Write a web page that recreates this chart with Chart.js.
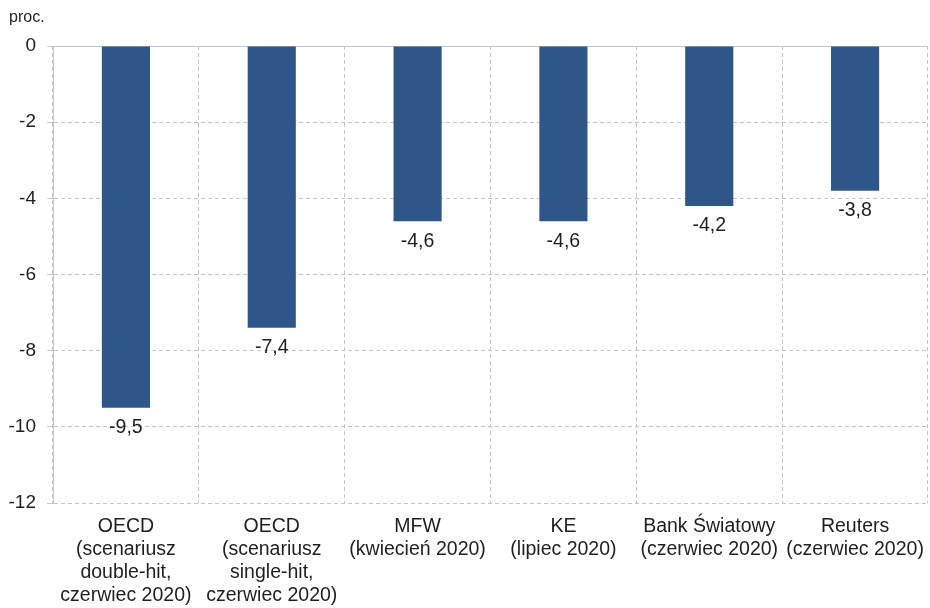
<!DOCTYPE html>
<html><head><meta charset="utf-8">
<script src="https://cdn.jsdelivr.net/npm/chart.js@4/dist/chart.umd.min.js"></script>
<style>html,body{margin:0;padding:0;background:#fff}#wrap{width:930px;height:608px}</style>
</head><body><div id="wrap"><canvas id="c" width="930" height="608"></canvas></div>
<script>
const categories = [
  ["OECD","(scenariusz","double-hit,","czerwiec 2020)"],
  ["OECD","(scenariusz","single-hit,","czerwiec 2020)"],
  ["MFW","(kwiecień 2020)"],
  ["KE","(lipiec 2020)"],
  ["Bank Światowy","(czerwiec 2020)"],
  ["Reuters","(czerwiec 2020)"]
];
const values = [-9.5, -7.4, -4.6, -4.6, -4.2, -3.8];
const yTicks = [0, -2, -4, -6, -8, -10, -12];
const unitLabel = "proc.";

const FONT = "'Liberation Sans', Arial, sans-serif";
const TXT = '#1f1f1f';
const GRID = '#c4c4c4';

const labelsPlugin = {
  id: 'extras',
  beforeDatasetsDraw(chart) {
    const {ctx, chartArea, scales} = chart;
    const y0 = scales.y.getPixelForValue(0);
    ctx.save();
    ctx.strokeStyle = GRID;
    ctx.lineWidth = 1;
    ctx.setLineDash([]);
    ctx.beginPath();
    ctx.moveTo(chartArea.left - 6, Math.round(y0) + 0.5);
    ctx.lineTo(chartArea.right, Math.round(y0) + 0.5);
    ctx.stroke();
    ctx.restore();
  },
  afterDatasetsDraw(chart) {
    const {ctx} = chart;
    const meta = chart.getDatasetMeta(0);
    ctx.save();
    ctx.font = "19.5px " + FONT;
    ctx.fillStyle = TXT;
    ctx.textAlign = 'center';
    ctx.textBaseline = 'middle';
    meta.data.forEach((bar, i) => {
      const txt = values[i].toFixed(1).replace('.', ',');
      ctx.fillText(txt, bar.x, bar.y + 20);
    });
    ctx.font = "16px " + FONT;
    ctx.textAlign = 'left';
    ctx.textBaseline = 'middle';
    ctx.fillText(unitLabel, 9, 18);
    ctx.restore();
  }
};

new Chart(document.getElementById('c'), {
  type: 'bar',
  data: {
    labels: categories,
    datasets: [{
      data: values,
      backgroundColor: '#2f5689',
      borderWidth: 0,
      categoryPercentage: 1,
      barPercentage: 0.33
    }]
  },
  options: {
    responsive: false,
    animation: false,
    devicePixelRatio: 1,
    layout: {padding: {top: 46, right: 2, left: 0, bottom: 0}},
    plugins: {legend: {display: false}, tooltip: {enabled: false}, title: {display: false}},
    scales: {
      x: {
        grid: {display: true, color: GRID, drawTicks: false, offset: true},
        border: {display: false, dash: [4, 3]},
        ticks: {
          color: TXT, font: {family: FONT, size: 19.5, lineHeight: 1.18},
          padding: 12, maxRotation: 0, autoSkip: false
        },
        afterFit(s) { s.height = 105; s.paddingLeft = 0; s.paddingRight = 0; }
      },
      y: {
        min: -12, max: 0,
        afterBuildTicks(s) { s.ticks = yTicks.map(v => ({value: v})); },
        grid: {color: (c) => c.tick && c.tick.value === 0 ? 'rgba(0,0,0,0)' : GRID, tickLength: 6, drawTicks: true},
        border: {display: true, color: '#c8c8c8', dash: [4, 3]},
        ticks: {
          color: TXT, font: {family: FONT, size: 19}, padding: 11,
          callback: (v) => String(v)
        },
        afterFit(s) { s.width = 53; }
      }
    }
  },
  plugins: [labelsPlugin]
});
</script></body></html>
